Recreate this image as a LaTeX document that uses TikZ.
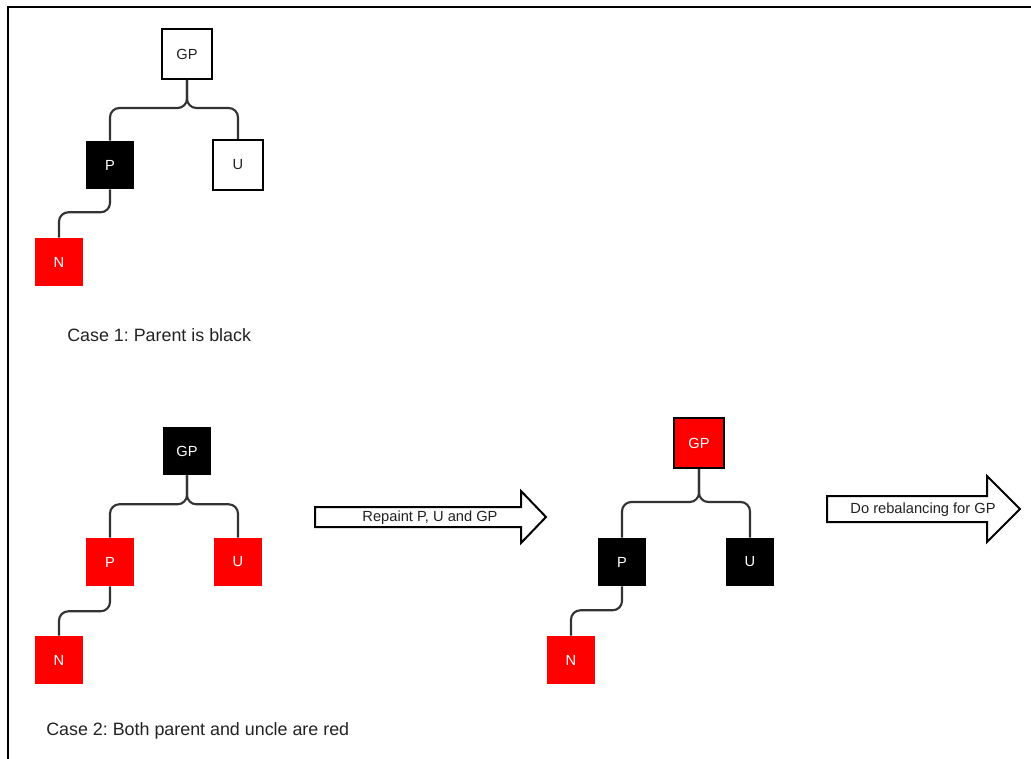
\documentclass[tikz,border=0pt]{standalone}
\usepackage{fontspec}
\setmainfont{Liberation Sans}
\frenchspacing
\usetikzlibrary{positioning,calc}
\definecolor{Ink}{HTML}{222222}
\definecolor{Wire}{HTML}{333333}
\definecolor{NodeRed}{HTML}{FF0000}
\tikzset{
  whitebox/.style={draw=black, fill=white, line width=1.5pt, minimum size=37.5pt, inner sep=0pt, text=Ink, font=\fontsize{11}{13}\selectfont},
  blackbox/.style={fill=black, minimum size=36pt, inner sep=0pt, text=white, font=\fontsize{11}{13}\selectfont},
  redbox/.style={fill=NodeRed, minimum size=36pt, inner sep=0pt, text=white, font=\fontsize{11}{13}\selectfont},
  redframe/.style={draw=black, fill=NodeRed, line width=1.5pt, minimum size=37.5pt, inner sep=0pt, text=white, font=\fontsize{11}{13}\selectfont},
  link/.style={draw=Wire, line width=1.6pt, rounded corners=7pt},
  bigarrow/.style={draw=black, fill=white, line width=1.5pt, line join=miter},
  note/.style={inner sep=0pt, text=Ink, font=\fontsize{11}{13}\selectfont},
  caption/.style={inner sep=0pt, anchor=west, text=Ink, font=\fontsize{13.4}{16}\selectfont}
}
\begin{document}
\begin{tikzpicture}[x=0.75pt, y=-0.75pt]
\useasboundingbox (0,0) rectangle (1031,759);
% frame
\draw[line width=1.5pt] (8,759) -- (8,7) -- (1031,7);

% case 1
\node[whitebox] (gpa) at (187,54) {GP};
\node[blackbox] (pa) at (110,165) {P};
\node[whitebox] (ua) at (238,165) {U};
\node[redbox] (na) at (59,262) {N};
\draw[link] (gpa.south) -- ++(0,28) -| (pa.north);
\draw[link] (gpa.south) -- ++(0,28) -| (ua.north);
\draw[link] (pa.south) -- ++(0,23) -| (na.north);
\node[caption] (casea) at (67,335) {Case 1: Parent is black};

% case 2, before
\node[blackbox] (gpb) at (187,451) {GP};
\node[redbox] (pb) at (110,562) {P};
\node[redbox] (ub) at (238,562) {U};
\node[redbox] (nb) at (59,660) {N};
\draw[link] (gpb.south) -- ++(0,29) -| (pb.north);
\draw[link] (gpb.south) -- ++(0,29) -| (ub.north);
\draw[link] (pb.south) -- ++(0,25) -| (nb.north);
\node[caption] (caseb) at (46,731) {Case 2: Both parent and uncle are red};

% repaint step
\draw[bigarrow] (315,507) -- (521,507) -- (521,491) -- (546,517) -- (521,543) -- (521,527) -- (315,527) -- cycle;
\node[note] (repaint) at (430,518) {Repaint P, U and GP};

% case 2, after
\node[redframe] (gpc) at (699,443) {GP};
\node[blackbox] (pc) at (622,562) {P};
\node[blackbox] (uc) at (750,562) {U};
\node[redbox] (nc) at (571,660) {N};
\draw[link] (gpc.south) -- ++(0,33) -| (pc.north);
\draw[link] (gpc.south) -- ++(0,33) -| (uc.north);
\draw[link] (pc.south) -- ++(0,24) -| (nc.north);

% next step
\draw[bigarrow] (827,496) -- (987,496) -- (987,476) -- (1020,509) -- (987,542) -- (987,522) -- (827,522) -- cycle;
\node[note] (rebalance) at (923,510) {Do rebalancing for GP};
\end{tikzpicture}
\end{document}
